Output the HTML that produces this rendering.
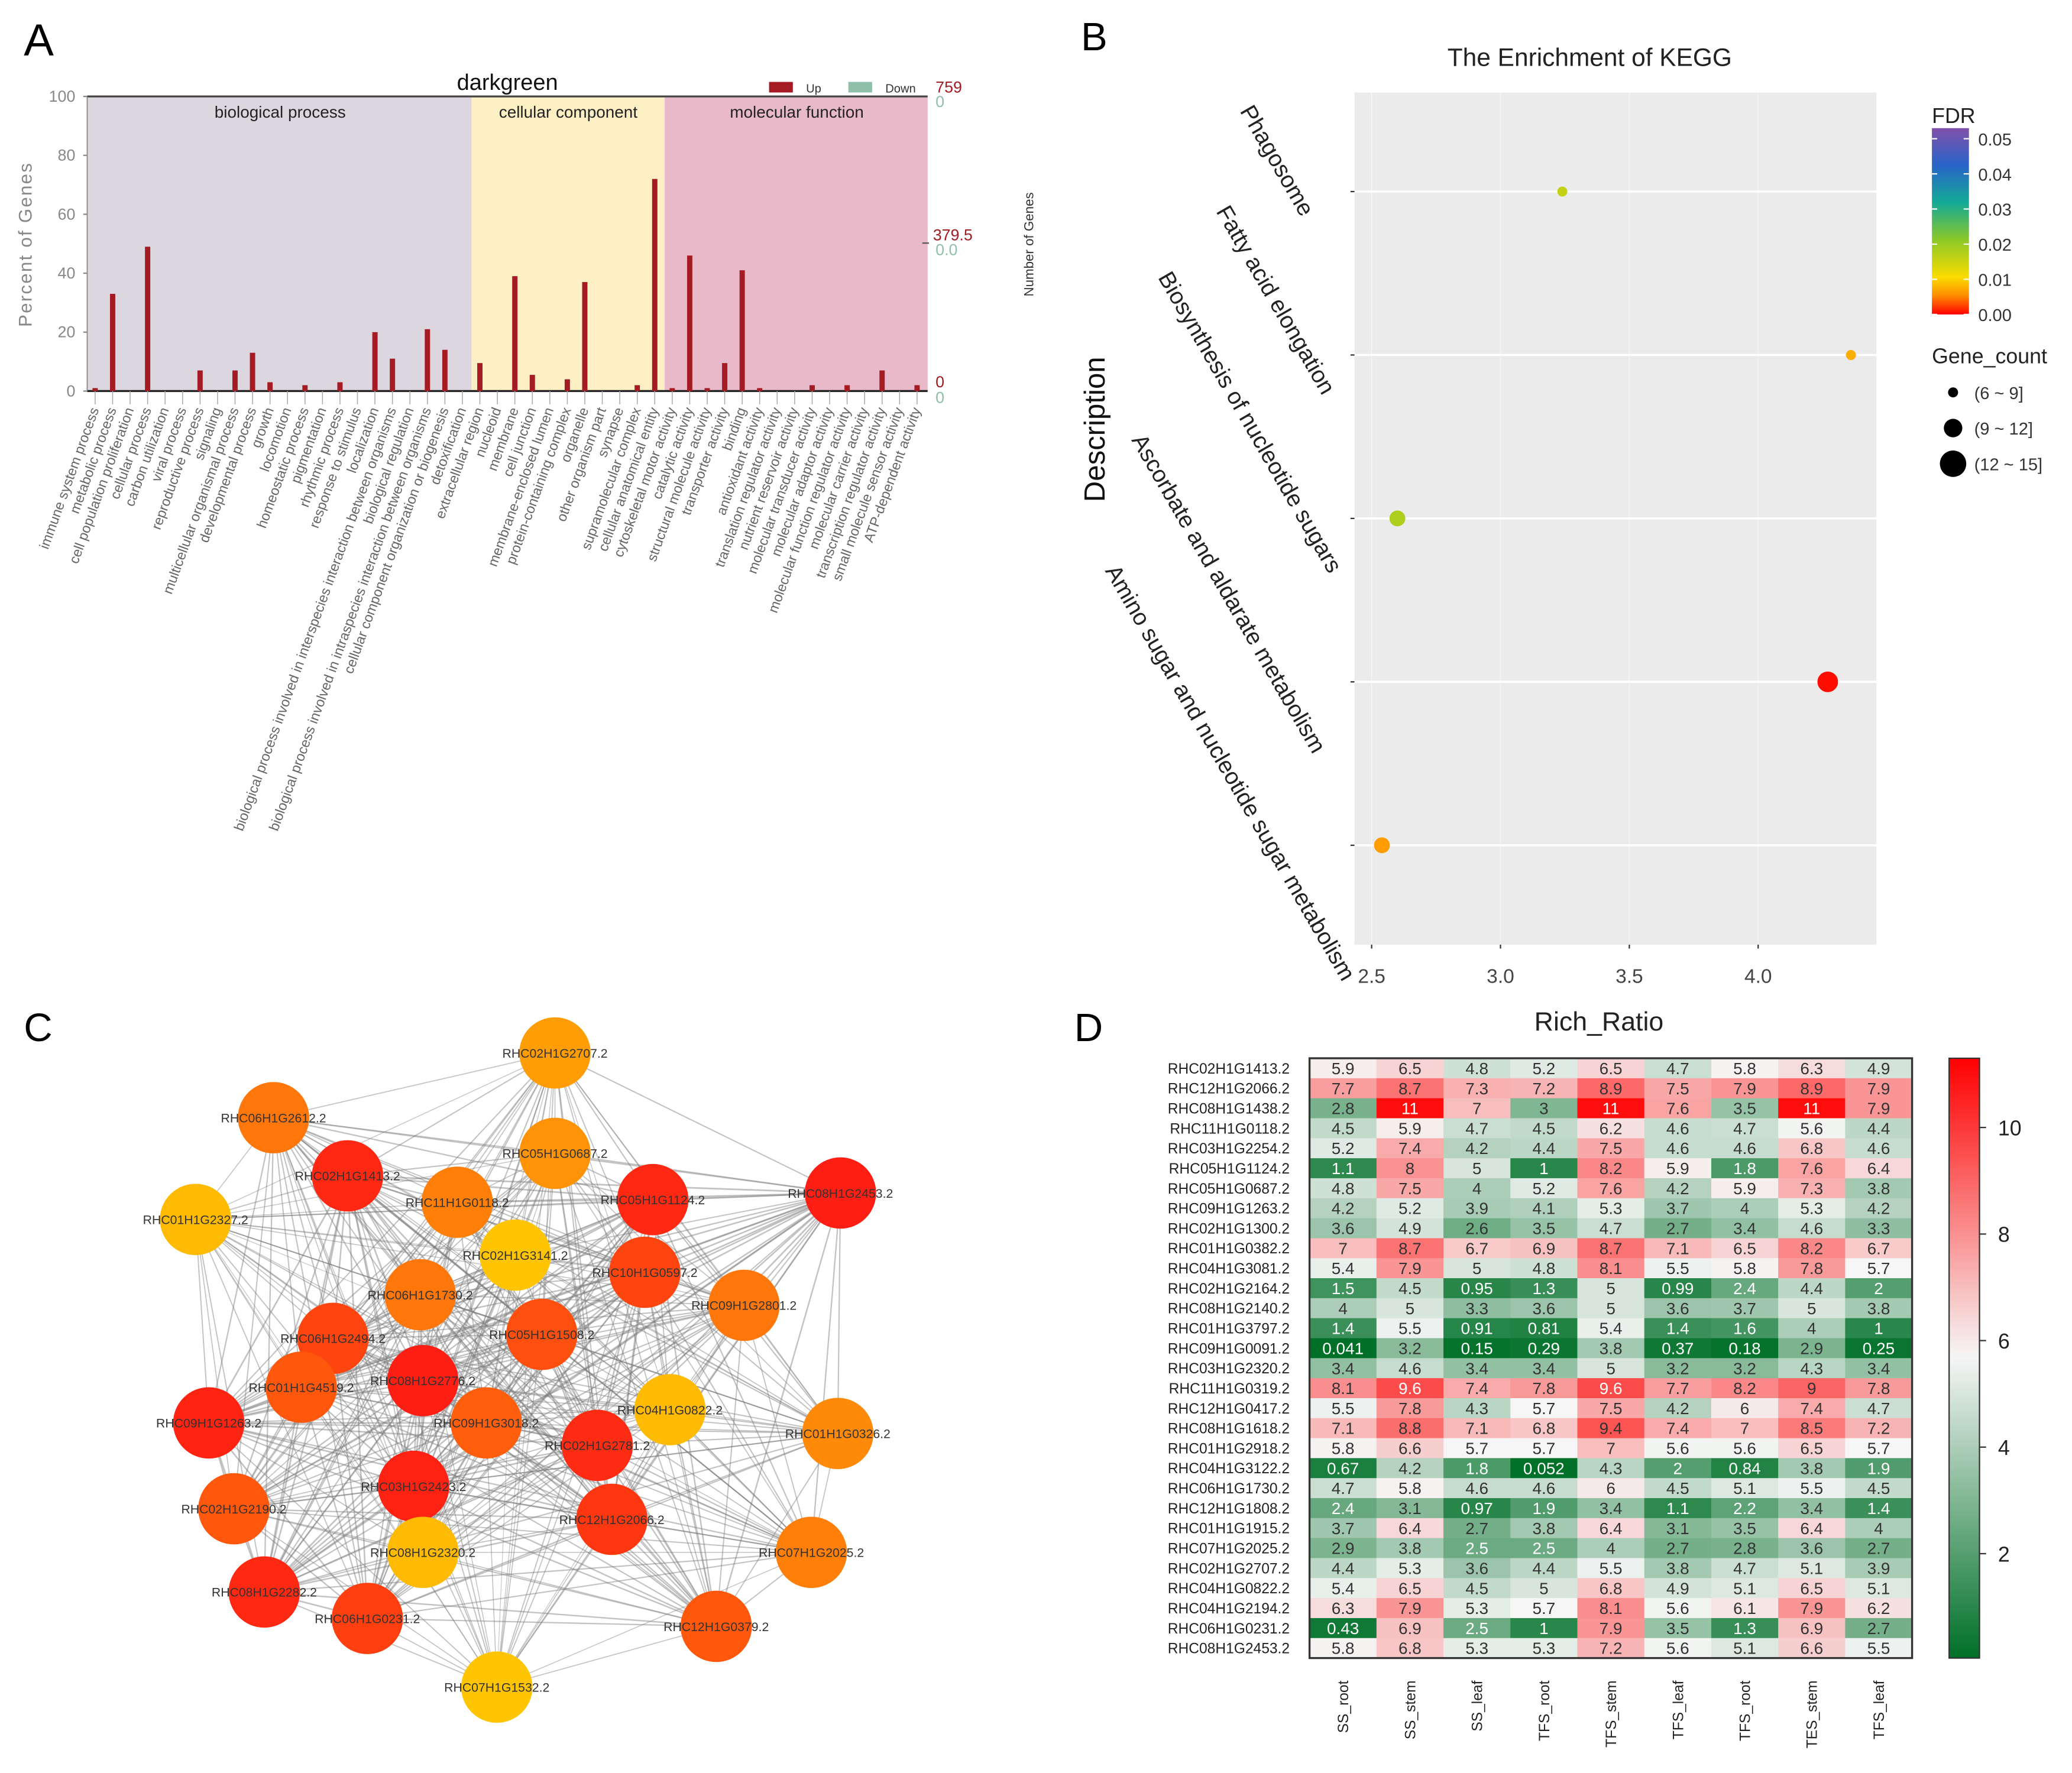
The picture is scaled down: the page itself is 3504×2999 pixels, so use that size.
<!DOCTYPE html>
<html><head><meta charset="utf-8"><style>
html,body{margin:0;padding:0;background:#fff;}
svg{display:block;font-family:"Liberation Sans",sans-serif;}
</style></head><body>
<svg id="fig" xmlns="http://www.w3.org/2000/svg" width="3504" height="2999" viewBox="0 0 1568 1342" preserveAspectRatio="none">
<rect width="1568" height="1342" fill="#fff"/>
<g id="pa"></g>
<g id="pb"></g>
<g id="pc"></g>
<g id="pd"></g>
</svg>
<script>
// ---------- Panel A data ----------
const goTerms = ["immune system process","metabolic process","cell population proliferation","cellular process","carbon utilization","viral process","reproductive process","signaling","multicellular organismal process","developmental process","growth","locomotion","homeostatic process","pigmentation","rhythmic process","response to stimulus","localization","biological process involved in interspecies interaction between organisms","biological regulation","biological process involved in intraspecies interaction between organisms","cellular component organization or biogenesis","detoxification","extracellular region","nucleoid","membrane","cell junction","membrane-enclosed lumen","protein-containing complex","organelle","other organism part","synapse","supramolecular complex","cellular anatomical entity","cytoskeletal motor activity","catalytic activity","structural molecule activity","transporter activity","binding","antioxidant activity","translation regulator activity","nutrient reservoir activity","molecular transducer activity","molecular adaptor activity","molecular function regulator activity","molecular carrier activity","transcription regulator activity","small molecule sensor activity","ATP-dependent activity"];
const goPercent = [1,33,0,49,0,0,7,0,7,13,3,0,2,0,3,0,20,11,0,21,14,0,9.5,0,39,5.5,0,4,37,0,0,2,72,1,46,1,9.5,41,1,0,0,2,0,2,0,7,0,2];
const leftTicks = [0,20,40,60,80,100];
// ---------- Panel B data ----------
const keggTerms = ["Phagosome","Fatty acid elongation","Biosynthesis of nucleotide sugars","Ascorbate and aldarate metabolism","Amino sugar and nucleotide sugar metabolism"];
const keggRatio = [3.24,4.36,2.6,4.27,2.54];
const keggFdr = [0.015,0.007,0.017,0.0005,0.006];
const keggCount = [6,6,10,14,10];
const richTicks = [2.5,3.0,3.5,4.0];
const fdrTicks = [0.05,0.04,0.03,0.02,0.01,0.00];
// ---------- Panel D data ----------
const genes = ["RHC02H1G1413.2","RHC12H1G2066.2","RHC08H1G1438.2","RHC11H1G0118.2","RHC03H1G2254.2","RHC05H1G1124.2","RHC05H1G0687.2","RHC09H1G1263.2","RHC02H1G1300.2","RHC01H1G0382.2","RHC04H1G3081.2","RHC02H1G2164.2","RHC08H1G2140.2","RHC01H1G3797.2","RHC09H1G0091.2","RHC03H1G2320.2","RHC11H1G0319.2","RHC12H1G0417.2","RHC08H1G1618.2","RHC01H1G2918.2","RHC04H1G3122.2","RHC06H1G1730.2","RHC12H1G1808.2","RHC01H1G1915.2","RHC07H1G2025.2","RHC02H1G2707.2","RHC04H1G0822.2","RHC04H1G2194.2","RHC06H1G0231.2","RHC08H1G2453.2"];
const samples = ["SS_root","SS_stem","SS_leaf","TFS_root","TFS_stem","TFS_leaf","TFS_root","TES_stem","TFS_leaf"];
const expr = [
[5.9,6.5,4.8,5.2,6.5,4.7,5.8,6.3,4.9],
[7.7,8.7,7.3,7.2,8.9,7.5,7.9,8.9,7.9],
[2.8,11,7,3,11,7.6,3.5,11,7.9],
[4.5,5.9,4.7,4.5,6.2,4.6,4.7,5.6,4.4],
[5.2,7.4,4.2,4.4,7.5,4.6,4.6,6.8,4.6],
[1.1,8,5,1,8.2,5.9,1.8,7.6,6.4],
[4.8,7.5,4,5.2,7.6,4.2,5.9,7.3,3.8],
[4.2,5.2,3.9,4.1,5.3,3.7,4,5.3,4.2],
[3.6,4.9,2.6,3.5,4.7,2.7,3.4,4.6,3.3],
[7,8.7,6.7,6.9,8.7,7.1,6.5,8.2,6.7],
[5.4,7.9,5,4.8,8.1,5.5,5.8,7.8,5.7],
[1.5,4.5,0.95,1.3,5,0.99,2.4,4.4,2],
[4,5,3.3,3.6,5,3.6,3.7,5,3.8],
[1.4,5.5,0.91,0.81,5.4,1.4,1.6,4,1],
[0.041,3.2,0.15,0.29,3.8,0.37,0.18,2.9,0.25],
[3.4,4.6,3.4,3.4,5,3.2,3.2,4.3,3.4],
[8.1,9.6,7.4,7.8,9.6,7.7,8.2,9,7.8],
[5.5,7.8,4.3,5.7,7.5,4.2,6,7.4,4.7],
[7.1,8.8,7.1,6.8,9.4,7.4,7,8.5,7.2],
[5.8,6.6,5.7,5.7,7,5.6,5.6,6.5,5.7],
[0.67,4.2,1.8,0.052,4.3,2,0.84,3.8,1.9],
[4.7,5.8,4.6,4.6,6,4.5,5.1,5.5,4.5],
[2.4,3.1,0.97,1.9,3.4,1.1,2.2,3.4,1.4],
[3.7,6.4,2.7,3.8,6.4,3.1,3.5,6.4,4],
[2.9,3.8,2.5,2.5,4,2.7,2.8,3.6,2.7],
[4.4,5.3,3.6,4.4,5.5,3.8,4.7,5.1,3.9],
[5.4,6.5,4.5,5,6.8,4.9,5.1,6.5,5.1],
[6.3,7.9,5.3,5.7,8.1,5.6,6.1,7.9,6.2],
[0.43,6.9,2.5,1,7.9,3.5,1.3,6.9,2.7],
[5.8,6.8,5.3,5.3,7.2,5.6,5.1,6.6,5.5]];
const cbarTicks = [2,4,6,8,10];
// ---------- Panel C data ----------
const nodeNames = ["RHC02H1G2707.2","RHC06H1G2612.2","RHC02H1G1413.2","RHC05H1G0687.2","RHC11H1G0118.2","RHC05H1G1124.2","RHC08H1G2453.2","RHC01H1G2327.2","RHC02H1G3141.2","RHC10H1G0597.2","RHC06H1G1730.2","RHC09H1G2801.2","RHC06H1G2494.2","RHC05H1G1508.2","RHC08H1G2776.2","RHC01H1G4519.2","RHC09H1G1263.2","RHC09H1G3018.2","RHC04H1G0822.2","RHC01H1G0326.2","RHC02H1G2781.2","RHC03H1G2423.2","RHC02H1G2190.2","RHC12H1G2066.2","RHC08H1G2320.2","RHC07H1G2025.2","RHC08H1G2282.2","RHC06H1G0231.2","RHC12H1G0379.2","RHC07H1G1532.2"];
const nodeX = [420,207,263,420,346,494,636,148,390,488,318,563,252,410,320,228,158,368,507,634,452,313,177,463,320,614,200,278,542,376];
const nodeY = [797,846,890,873,910,908,903,923,950,963,980,988,1013,1010,1045,1050,1077,1077,1067,1085,1094,1125,1142,1150,1175,1175,1205,1225,1231,1277];
const nodeDegree = [0.3,0.5,0.9,0.35,0.45,0.9,0.95,0.15,0.1,0.75,0.5,0.5,0.75,0.7,0.95,0.65,0.92,0.62,0.15,0.4,0.88,0.93,0.65,0.82,0.15,0.45,0.9,0.78,0.65,0.1];

const NS="http://www.w3.org/2000/svg";
function el(parent,tag,attrs,text){const e=document.createElementNS(NS,tag);for(const k in attrs)e.setAttribute(k,attrs[k]);if(text!==undefined)e.textContent=text;parent.appendChild(e);return e;}

// ================= Panel A =================
(function(){
const g=document.getElementById('pa');
const x0=66,x1=702,yTop=73,yBot=296;
const y=v=>yBot-(v/100)*(yBot-yTop);
const xi=i=>72+i*(694-72)/(goTerms.length-1);
let t=el(g,'text',{x:18,y:42,'font-size':34,fill:'#000'},'A');

let r=el(g,'rect',{x:x0,y:yTop,width:357-x0,height:yBot-yTop,fill:'#dcd7de'});

r=el(g,'rect',{x:357,y:yTop,width:503-357,height:yBot-yTop,fill:'#fdefc4'});

r=el(g,'rect',{x:503,y:yTop,width:x1-503,height:yBot-yTop,fill:'#e8bac9'});

[['biological process',212,'bp-label'],['cellular component',430,'cc-label'],['molecular function',603,'mf-label']].forEach(a=>{
 const s=el(g,'text',{x:a[1],y:89,'font-size':12.5,'text-anchor':'middle',fill:'#222'},a[0]);
 });
el(g,'line',{x1:x0,y1:yTop,x2:x1,y2:yTop,stroke:'#444','stroke-width':1.5});
el(g,'line',{x1:x0,y1:yBot,x2:x1,y2:yBot,stroke:'#222','stroke-width':1.5});
el(g,'line',{x1:x0,y1:yTop,x2:x0,y2:yBot,stroke:'#888','stroke-width':0.8});
leftTicks.forEach(v=>{el(g,'line',{x1:x0-3,y1:y(v),x2:x0,y2:y(v),stroke:'#888'});
 const s=el(g,'text',{x:57,y:y(v)+4,'font-size':12,'text-anchor':'end',fill:'#888'},String(v));
 });
goPercent.forEach((v,i)=>{
 el(g,'line',{x1:xi(i),y1:yBot,x2:xi(i),y2:yBot+10,stroke:'#aaa','stroke-width':0.7});
 if(v>0){const b=el(g,'rect',{x:xi(i)-2,y:y(v),width:4,height:yBot-y(v),fill:'#a51b24'});
 }
 const s=el(g,'text',{x:xi(i)+3,y:310,'font-size':10.5,'text-anchor':'end',fill:'#666',transform:`rotate(-70 ${xi(i)+3} 310)`},goTerms[i]);
 
});
t=el(g,'text',{x:384,y:68,'font-size':17,'text-anchor':'middle',fill:'#111'},'darkgreen');

t=el(g,'text',{x:24,y:185,'font-size':14,'text-anchor':'middle',fill:'#888',transform:'rotate(-90 24 185)','letter-spacing':'1'},'Percent of Genes');

t=el(g,'text',{x:782,y:185,'font-size':10,'text-anchor':'middle',fill:'#333',transform:'rotate(-90 782 185)'},'Number of Genes');

r=el(g,'rect',{x:582,y:62,width:18,height:8,fill:'#a51b24'});
t=el(g,'text',{x:610,y:70,'font-size':9,fill:'#333'},'Up');
r=el(g,'rect',{x:642,y:62,width:18,height:8,fill:'#8fbfa8'});
t=el(g,'text',{x:670,y:70,'font-size':9,fill:'#333'},'Down');
[['759',708,70,'#a51b24'],['0',708,81,'#8fbfa8'],['379.5',706,182,'#a51b24'],['0.0',708,193,'#8fbfa8'],['0',708,293,'#a51b24'],['0',708,305,'#8fbfa8']].forEach(a=>{
 const s=el(g,'text',{x:a[1],y:a[2],'font-size':12,fill:a[3]},a[0]);});
el(g,'line',{x1:698,y1:184,x2:703,y2:184,stroke:'#555'});
})();

// ================= Panel B =================
(function(){
const g=document.getElementById('pb');
const px0=1025,px1=1420,py0=70,py1=715;
const xr=v=>1038+(v-2.5)*195;
const yc=i=>145+i*123.7;
function fdrColor(f){const stops=[[0,[255,0,0]],[0.005,[255,140,0]],[0.01,[250,220,0]],[0.02,[140,200,40]],[0.03,[20,170,150]],[0.04,[40,100,200]],[0.05,[130,80,170]]];
 for(let k=1;k<stops.length;k++){if(f<=stops[k][0]){const a=stops[k-1],b=stops[k];const u=(f-a[0])/(b[0]-a[0]);return `rgb(${a[1].map((c,j)=>Math.round(c+(b[1][j]-c)*u)).join(',')})`;}}return 'rgb(130,80,170)';}
const sz=c=>c<9?3.8:(c<12?6:7.8);
let t=el(g,'text',{x:818,y:38,'font-size':30,fill:'#000'},'B');
let r=el(g,'rect',{x:px0,y:py0,width:px1-px0,height:py1-py0,fill:'#ebebeb'});
richTicks.forEach(v=>{el(g,'line',{x1:xr(v),y1:py0,x2:xr(v),y2:py1,stroke:'#f6f6f6','stroke-width':0.6});});
keggTerms.forEach((n,i)=>{el(g,'line',{x1:px0,y1:yc(i),x2:px1,y2:yc(i),stroke:'#fff','stroke-width':1.6});
 el(g,'line',{x1:px0-3,y1:yc(i),x2:px0,y2:yc(i),stroke:'#333'});});
const starts=[[938,84],[920,160],[876,210],[856,333],[836,432]];
keggTerms.forEach((n,i)=>{const s=el(g,'text',{x:starts[i][0],y:starts[i][1],'font-size':17.5,fill:'#222',transform:`rotate(60 ${starts[i][0]} ${starts[i][1]})`},n);
 });
keggRatio.forEach((v,i)=>{const c=el(g,'circle',{cx:xr(v),cy:yc(i),r:sz(keggCount[i]),fill:fdrColor(keggFdr[i])});
 });
richTicks.forEach(v=>{el(g,'line',{x1:xr(v),y1:py1,x2:xr(v),y2:py1+3,stroke:'#333'});
 const s=el(g,'text',{x:xr(v),y:744,'font-size':15,'text-anchor':'middle',fill:'#444'},v.toFixed(1));});
t=el(g,'text',{x:1203,y:50,'font-size':19,'text-anchor':'middle',fill:'#222'},'The Enrichment of KEGG');
t=el(g,'text',{x:1210,y:780,'font-size':20,'text-anchor':'middle',fill:'#222'},'Rich_Ratio');
t=el(g,'text',{x:836,y:325,'font-size':22,'text-anchor':'middle',fill:'#111',transform:'rotate(-90 836 325)'},'Description');
t=el(g,'text',{x:1462,y:93,'font-size':16,fill:'#222'},'FDR');
const defs=el(g,'defs',{});const lg=el(defs,'linearGradient',{id:'fdrg',x1:0,y1:0,x2:0,y2:1});
[0,0.1,0.2,0.3,0.4,0.5,0.6,0.7,0.8,0.9,0.95,1].forEach(u=>{el(lg,'stop',{offset:u,'stop-color':fdrColor(0.05*(1-u))});});
r=el(g,'rect',{x:1462,y:97,width:28,height:141,fill:'url(#fdrg)'});
fdrTicks.forEach(f=>{const yy=238-(f/0.05)*133;el(g,'line',{x1:1462,y1:yy,x2:1466,y2:yy,stroke:'#fff'});el(g,'line',{x1:1486,y1:yy,x2:1490,y2:yy,stroke:'#fff'});
 const s=el(g,'text',{x:1497,y:yy+5,'font-size':13,fill:'#333'},f.toFixed(2));});
t=el(g,'text',{x:1462,y:275,'font-size':16,fill:'#222'},'Gene_count');
[[297,3.8,'(6 ~ 9]'],[324,7,'(9 ~ 12]'],[351,10,'(12 ~ 15]']].forEach(a=>{const c=el(g,'circle',{cx:1478,cy:a[0],r:a[1],fill:'#000'});
 const s=el(g,'text',{x:1494,y:a[0]+5,'font-size':13,fill:'#333'},a[2]);});
})();

// ================= Panel C =================
(function(){
const g=document.getElementById('pc');
let t=el(g,'text',{x:18,y:788,'font-size':30,fill:'#000'},'C');
const eg=el(g,'g',{});
const n=nodeX.length;
for(let i=0;i<n;i++)for(let j=i+1;j<n;j++){
 if(((i*7+j*3)%5)===0 && nodeDegree[i]+nodeDegree[j]<0.8) continue;
 const w=0.4+0.9*(nodeDegree[i]+nodeDegree[j])/2;
 el(eg,'line',{x1:nodeX[i],y1:nodeY[i],x2:nodeX[j],y2:nodeY[j],stroke:'#7a7a7a','stroke-width':w,'stroke-opacity':0.45});}
function nc(d){const a=[255,215,0],b=[255,20,20];return `rgb(${a.map((c,k)=>Math.round(c+(b[k]-c)*d)).join(',')})`;}
for(let i=0;i<n;i++){
 const c=el(g,'circle',{cx:nodeX[i],cy:nodeY[i],r:27,fill:nc(nodeDegree[i])});
 
 const s=el(g,'text',{x:nodeX[i],y:nodeY[i]+3.5,'font-size':9.5,'text-anchor':'middle',fill:'#333'},nodeNames[i]);
 }
})();

// ================= Panel D =================
(function(){
const g=document.getElementById('pd');
const hx0=991,hx1=1447,hy0=801,hy1=1255;
const cw=(hx1-hx0)/samples.length,rh=(hy1-hy0)/genes.length;
const vmin=0.04,vmax=11.3,vmid=5.7;
function hc(v){let a,b,u;if(v<=vmid){a=[0,112,40];b=[246,246,246];u=(v-vmin)/(vmid-vmin);}else{a=[246,246,246];b=[255,0,0];u=(v-vmid)/(vmax-vmid);}
 u=Math.max(0,Math.min(1,u));return `rgb(${a.map((c,k)=>Math.round(c+(b[k]-c)*u)).join(',')})`;}
let t=el(g,'text',{x:813,y:788,'font-size':30,fill:'#000'},'D');
expr.forEach((row,i)=>{
 const s=el(g,'text',{x:976,y:hy0+rh*i+rh/2+4,'font-size':11,'text-anchor':'end',fill:'#222'},genes[i]);
 
 row.forEach((v,j)=>{
  const c=el(g,'rect',{x:hx0+cw*j,y:hy0+rh*i,width:cw+0.3,height:rh+0.3,fill:hc(v)});
  
  const tt=el(g,'text',{x:hx0+cw*j+cw/2,y:hy0+rh*i+rh/2+4.5,'font-size':12.5,'text-anchor':'middle',fill:(v<2.6||v>9.5)?'#fff':'#333'},String(v));
  
 });});
el(g,'rect',{x:hx0,y:hy0,width:hx1-hx0,height:hy1-hy0,fill:'none',stroke:'#333','stroke-width':1.5});
samples.forEach((s,j)=>{const x=hx0+cw*j+cw/2+4,y=1272;
 const e=el(g,'text',{x:x,y:y,'font-size':11,'text-anchor':'end',fill:'#222',transform:`rotate(-90 ${x} ${y})`},s);
 });
const defs=el(g,'defs',{});const lg=el(defs,'linearGradient',{id:'hmg',x1:0,y1:0,x2:0,y2:1});
for(let k=0;k<=20;k++){const v=vmax-(vmax-vmin)*k/20;el(lg,'stop',{offset:k/20,'stop-color':hc(v)});}
const cb=el(g,'rect',{x:1475,y:hy0,width:23,height:hy1-hy0,fill:'url(#hmg)',stroke:'#333','stroke-width':1});

cbarTicks.forEach(v=>{const yy=hy1-(v-vmin)/(vmax-vmin)*(hy1-hy0);
 el(g,'line',{x1:1498,y1:yy,x2:1503,y2:yy,stroke:'#333'});
 const s=el(g,'text',{x:1512,y:yy+6,'font-size':16,fill:'#222'},String(v));});
})();
</script>
</body></html>
